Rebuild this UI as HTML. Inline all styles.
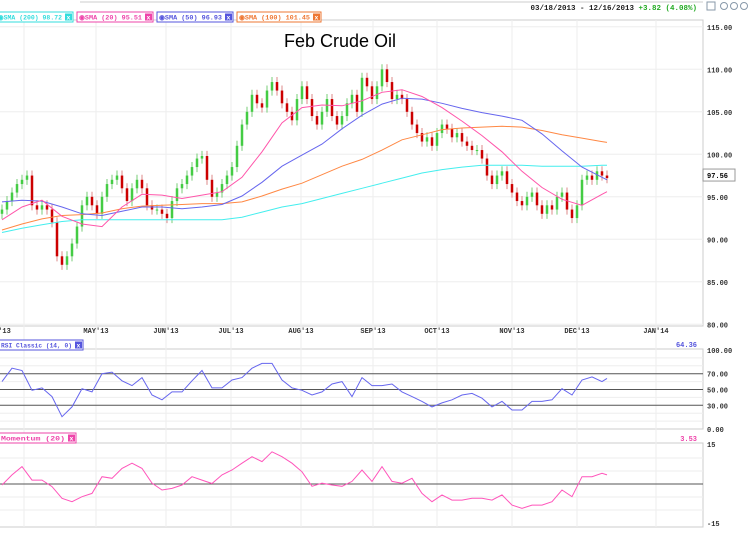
<!DOCTYPE html>
<html><head><meta charset="utf-8"><style>
body{margin:0;background:#fff;width:750px;height:529px;overflow:hidden;font-family:"Liberation Sans",sans-serif}
svg text{font-family:"Liberation Mono",monospace;font-weight:bold}
</style></head><body>
<svg id="c" width="750" height="529" xmlns="http://www.w3.org/2000/svg">
<g id="grid"></g><g id="marks"></g><g id="labels"></g>
<text x="697" y="10" font-size="7.5" text-anchor="end" fill="#222">03/18/2013 - 12/16/2013 <tspan fill="#2a2">+3.82 (4.08%)</tspan></text>
<g><rect x="707" y="2" width="8" height="8" fill="none" stroke="#89a"/><circle cx="724" cy="6" r="3.5" fill="none" stroke="#89a"/><circle cx="734" cy="6" r="3.5" fill="none" stroke="#89a"/><circle cx="744" cy="6" r="3.5" fill="none" stroke="#89a"/></g>
<text x="340" y="47" font-size="18" text-anchor="middle" fill="#000" style="font-family:'Liberation Sans',sans-serif;font-weight:normal">Feb Crude Oil</text>
</svg>
<script>
const closes=[93.5,94.5,95.5,96.5,97,97.5,94,93.5,94,93.5,92,88,87,88,89.5,91.5,94,95,94,93,95,96.5,97,97.5,96,94.5,96,97,96,94,93.5,93.5,93,92.5,94.5,96,96.5,97.5,98.5,99.5,99.8,97,95,95.5,96.5,97.5,98.5,101,103.5,105,107,106,105.5,107.5,108.5,107.5,106,105,104,106.5,108,106.5,104.5,103.5,105,106.5,104.5,103.5,104.5,106,107,105,109,108,106.5,108,110,108.5,106.5,107,106.5,105,103.5,102.5,101.5,102,101,102.5,103.5,103,102,102.5,101.5,101,100.5,100.5,99.5,97.5,96.5,97.5,98,96.5,95.5,94.5,94,95,95.5,94,93,94,93.5,95,95.5,93.5,92.5,94,97,97.5,97,98,97.5,97.2];
const sampleIdx=[0,4,8,12,16,20,24,28,32,36,40,44,48,52,56,60,64,68,72,76,80,84,88,92,96,100,104,108,112,116,120,121];
const sma200=[90.8,91.3,91.7,92.1,92.3,92.3,92.3,92.3,92.3,92.3,92.3,92.3,92.6,93.2,93.8,94.2,94.8,95.4,96,96.6,97.2,97.8,98.2,98.5,98.7,98.7,98.7,98.6,98.6,98.6,98.7,98.7];
const sma20=[92.3,93.8,94.6,92.7,91.8,91.5,93.8,95.3,95.2,94.8,95.2,95.6,97.3,100.3,103.7,105.5,105.8,105.7,106.3,107.3,107.6,106.8,105.5,103.9,102.2,100.3,98,96.1,94.7,94,95.3,95.6];
const sma50=[94.4,94.6,94.5,93.8,93,92.8,93.3,93.8,93.8,93.6,93.8,94.1,95.1,96.7,98.6,99.9,101.2,103,104.6,105.9,106.6,106.5,106,105.4,104.9,104.5,104,102.4,100.4,98.5,97.3,97];
const sma100=[91.1,91.8,92.4,92.8,92.9,93.1,93.6,93.9,94,94.1,94.2,94.2,94.4,95.1,95.9,96.6,97.6,98.6,99.4,100.5,101.7,102.3,102.9,103.1,103.2,103.3,103.2,102.8,102.3,101.9,101.5,101.4];
const rsiVals=[60,77,74,49,52,41,15.6,28,51,47,70,72,61,55,65,43,37,47,47,61,74,52,52,62,65,77,83,83,62,52,49,43,47,57,60,41,65,55,55,57,47,41,35,28,33,37,43,45,39,28,35,24,24,35,35,37,51,43,62,66,60,64];
const mom=[-0.4,3.5,6.7,1.5,1.5,-1,-5.5,-6.8,-4.9,-3.6,2.8,2.2,6,8,6,0.3,-2.3,-1.7,-0.4,2.8,1.5,0.2,3.5,5.4,8,10.5,8.6,12.4,10.5,8,4.7,-0.9,0.3,-0.4,-0.9,1,5.4,1,6.7,1,0.3,2.2,-3.6,-6.8,-4.2,-6.2,-6.2,-5.5,-5.5,-6.2,-4.2,-8.1,-9.4,-8.1,-8.1,-6.8,-2.3,-4.9,2.8,2.8,4.1,3.5];
const priceTicks=[115,110,105,100,95,90,85,80];
const rsiTicks=[100,70,50,30,0];
const months=["MAY'13","JUN'13","JUL'13","AUG'13","SEP'13","OCT'13","NOV'13","DEC'13","JAN'14"];
const monthBar=[18.8,32.8,45.8,59.8,74.2,87,102,115,130.8];

const NS="http://www.w3.org/2000/svg";
const X=i=>2+i*5;
const PY=v=>154.3-(v-100)*8.5;
const RY=v=>429-v*0.79;
const MY=v=>484-v*2.6;
const svg=document.getElementById('c'),G=document.getElementById('grid'),M=document.getElementById('marks'),L=document.getElementById('labels');
function el(t,a,p){const e=document.createElementNS(NS,t);for(const k in a)e.setAttribute(k,a[k]);(p||M).appendChild(e);return e;}
const p1=el('rect',{x:-1,y:20,width:704,height:306,fill:'none',stroke:'#ccc'},G);

const p2=el('rect',{x:-1,y:349,width:704,height:80,fill:'none',stroke:'#ccc'},G);

const p3=el('rect',{x:-1,y:443,width:704,height:84,fill:'none',stroke:'#ccc'},G);

el('line',{x1:80,y1:2,x2:703,y2:2,stroke:'#ccc'},G);
el('line',{x1:24,y1:20,x2:24,y2:527,stroke:'#eee'},G);
monthBar.forEach((b,i)=>{
  const x=X(b);
  el('line',{x1:x,y1:20,x2:x,y2:527,stroke:'#eee'},G);
  const t=el('text',{x:x,y:333,'font-size':7,'text-anchor':'middle',fill:'#333'},L);t.textContent=months[i];
  
});
const t0=el('text',{x:-6,y:333,'font-size':7,fill:'#333'},L);t0.textContent="R'13";
priceTicks.forEach(v=>{
  el('line',{x1:0,y1:PY(v),x2:703,y2:PY(v),stroke:'#eee'},G);
  const t=el('text',{x:707,y:PY(v)+3,'font-size':7,fill:'#333'},L);t.textContent=v.toFixed(2);
  
});
rsiTicks.forEach(v=>{
  const t=el('text',{x:707,y:RY(v)+3,'font-size':7,fill:'#333'},L);t.textContent=v.toFixed(2);
  
});
[90,80,60,40,20,10].forEach(v=>el('line',{x1:0,y1:RY(v),x2:703,y2:RY(v),stroke:'#eee'},G));
[70,50,30].forEach(v=>el('line',{x1:0,y1:RY(v),x2:703,y2:RY(v),stroke:'#555'},G));
[10,5,-5,-10].forEach(v=>el('line',{x1:0,y1:MY(v),x2:703,y2:MY(v),stroke:'#eee'},G));
el('line',{x1:0,y1:MY(0),x2:703,y2:MY(0),stroke:'#555'},G);
[['15',447],['-15',526]].forEach(a=>{const t=el('text',{x:707,y:a[1],'font-size':7,fill:'#333'},L);t.textContent=a[0];
  });
closes.forEach((c,i)=>{
  const o=i?closes[i-1]:c-0.5;
  const up=c>=o,col=up?'#4c4':'#c00';
  const x=X(i);
  el('line',{x1:x,y1:PY(Math.max(o,c)+0.6),x2:x,y2:PY(Math.min(o,c)-0.6),stroke:up?'#7c7':'#d88'});
  const r=el('rect',{x:x-1.25,y:PY(Math.max(o,c)),width:2.5,height:Math.max(1,Math.abs(PY(o)-PY(c))),fill:col});
  
});
function line(vals,idx,fy,col,name){
  const d=vals.map((v,k)=>(k?'L':'M')+X(idx[k]).toFixed(1)+' '+fy(v).toFixed(1)).join(' ');
  const p=el('path',{d:d,fill:'none',stroke:col,'stroke-width':1});
  
}
line(sma200,sampleIdx,PY,'#4ee','sma-200-line');
line(sma100,sampleIdx,PY,'#f84','sma-100-line');
line(sma50,sampleIdx,PY,'#66e','sma-50-line');
line(sma20,sampleIdx,PY,'#f5a','sma-20-line');
const idx2=rsiVals.map((v,k)=>k*2);idx2[idx2.length-1]=121;
line(rsiVals,idx2,RY,'#66e','rsi-line');
line(mom,idx2,MY,'#f5b','momentum-line');
function legend(x,w,col,txt,y,name){
  const g=el('g',{},L);
  
  el('rect',{x:x,y:y,width:w,height:10,fill:'#fff',stroke:col},g);
  const t=el('text',{x:x+2,y:y+7.5,'font-size':6.5,fill:col,textLength:w-13,lengthAdjust:'spacingAndGlyphs'},g);t.textContent=txt;
  el('rect',{x:x+w-8,y:y+1.5,width:7,height:7,fill:col},g);
  const xx=el('text',{x:x+w-6.5,y:y+7.5,'font-size':6.5,fill:'#fff'},g);xx.textContent='x';
}
legend(-4,77,'#3dd','\u25c9SMA (200) 98.72',12,'legend-sma-200');
legend(77,76,'#e4a','\u25c9SMA (20) 95.51',12,'legend-sma-20');
legend(157,76,'#55d','\u25c9SMA (50) 96.93',12,'legend-sma-50');
legend(237,84,'#e73','\u25c9SMA (100) 101.45',12,'legend-sma-100');
legend(-1,84,'#55d','RSI Classic (14, 0)',340,'legend-rsi');
legend(-1,77,'#e4a','Momentum (20)',433,'legend-momentum');
const v1=el('text',{x:697,y:347,'font-size':7,'text-anchor':'end',fill:'#55d'},L);v1.textContent='64.36';
const v2=el('text',{x:697,y:441,'font-size':7,'text-anchor':'end',fill:'#e4a'},L);v2.textContent='3.53';
const tag=el('g',{},L);
el('rect',{x:703,y:PY(97.56)-6,width:32,height:12,fill:'#fff',stroke:'#999'},tag);
const tt=el('text',{x:707,y:PY(97.56)+3,'font-size':7,fill:'#000'},tag);tt.textContent='97.56';
</script>
</body></html>
